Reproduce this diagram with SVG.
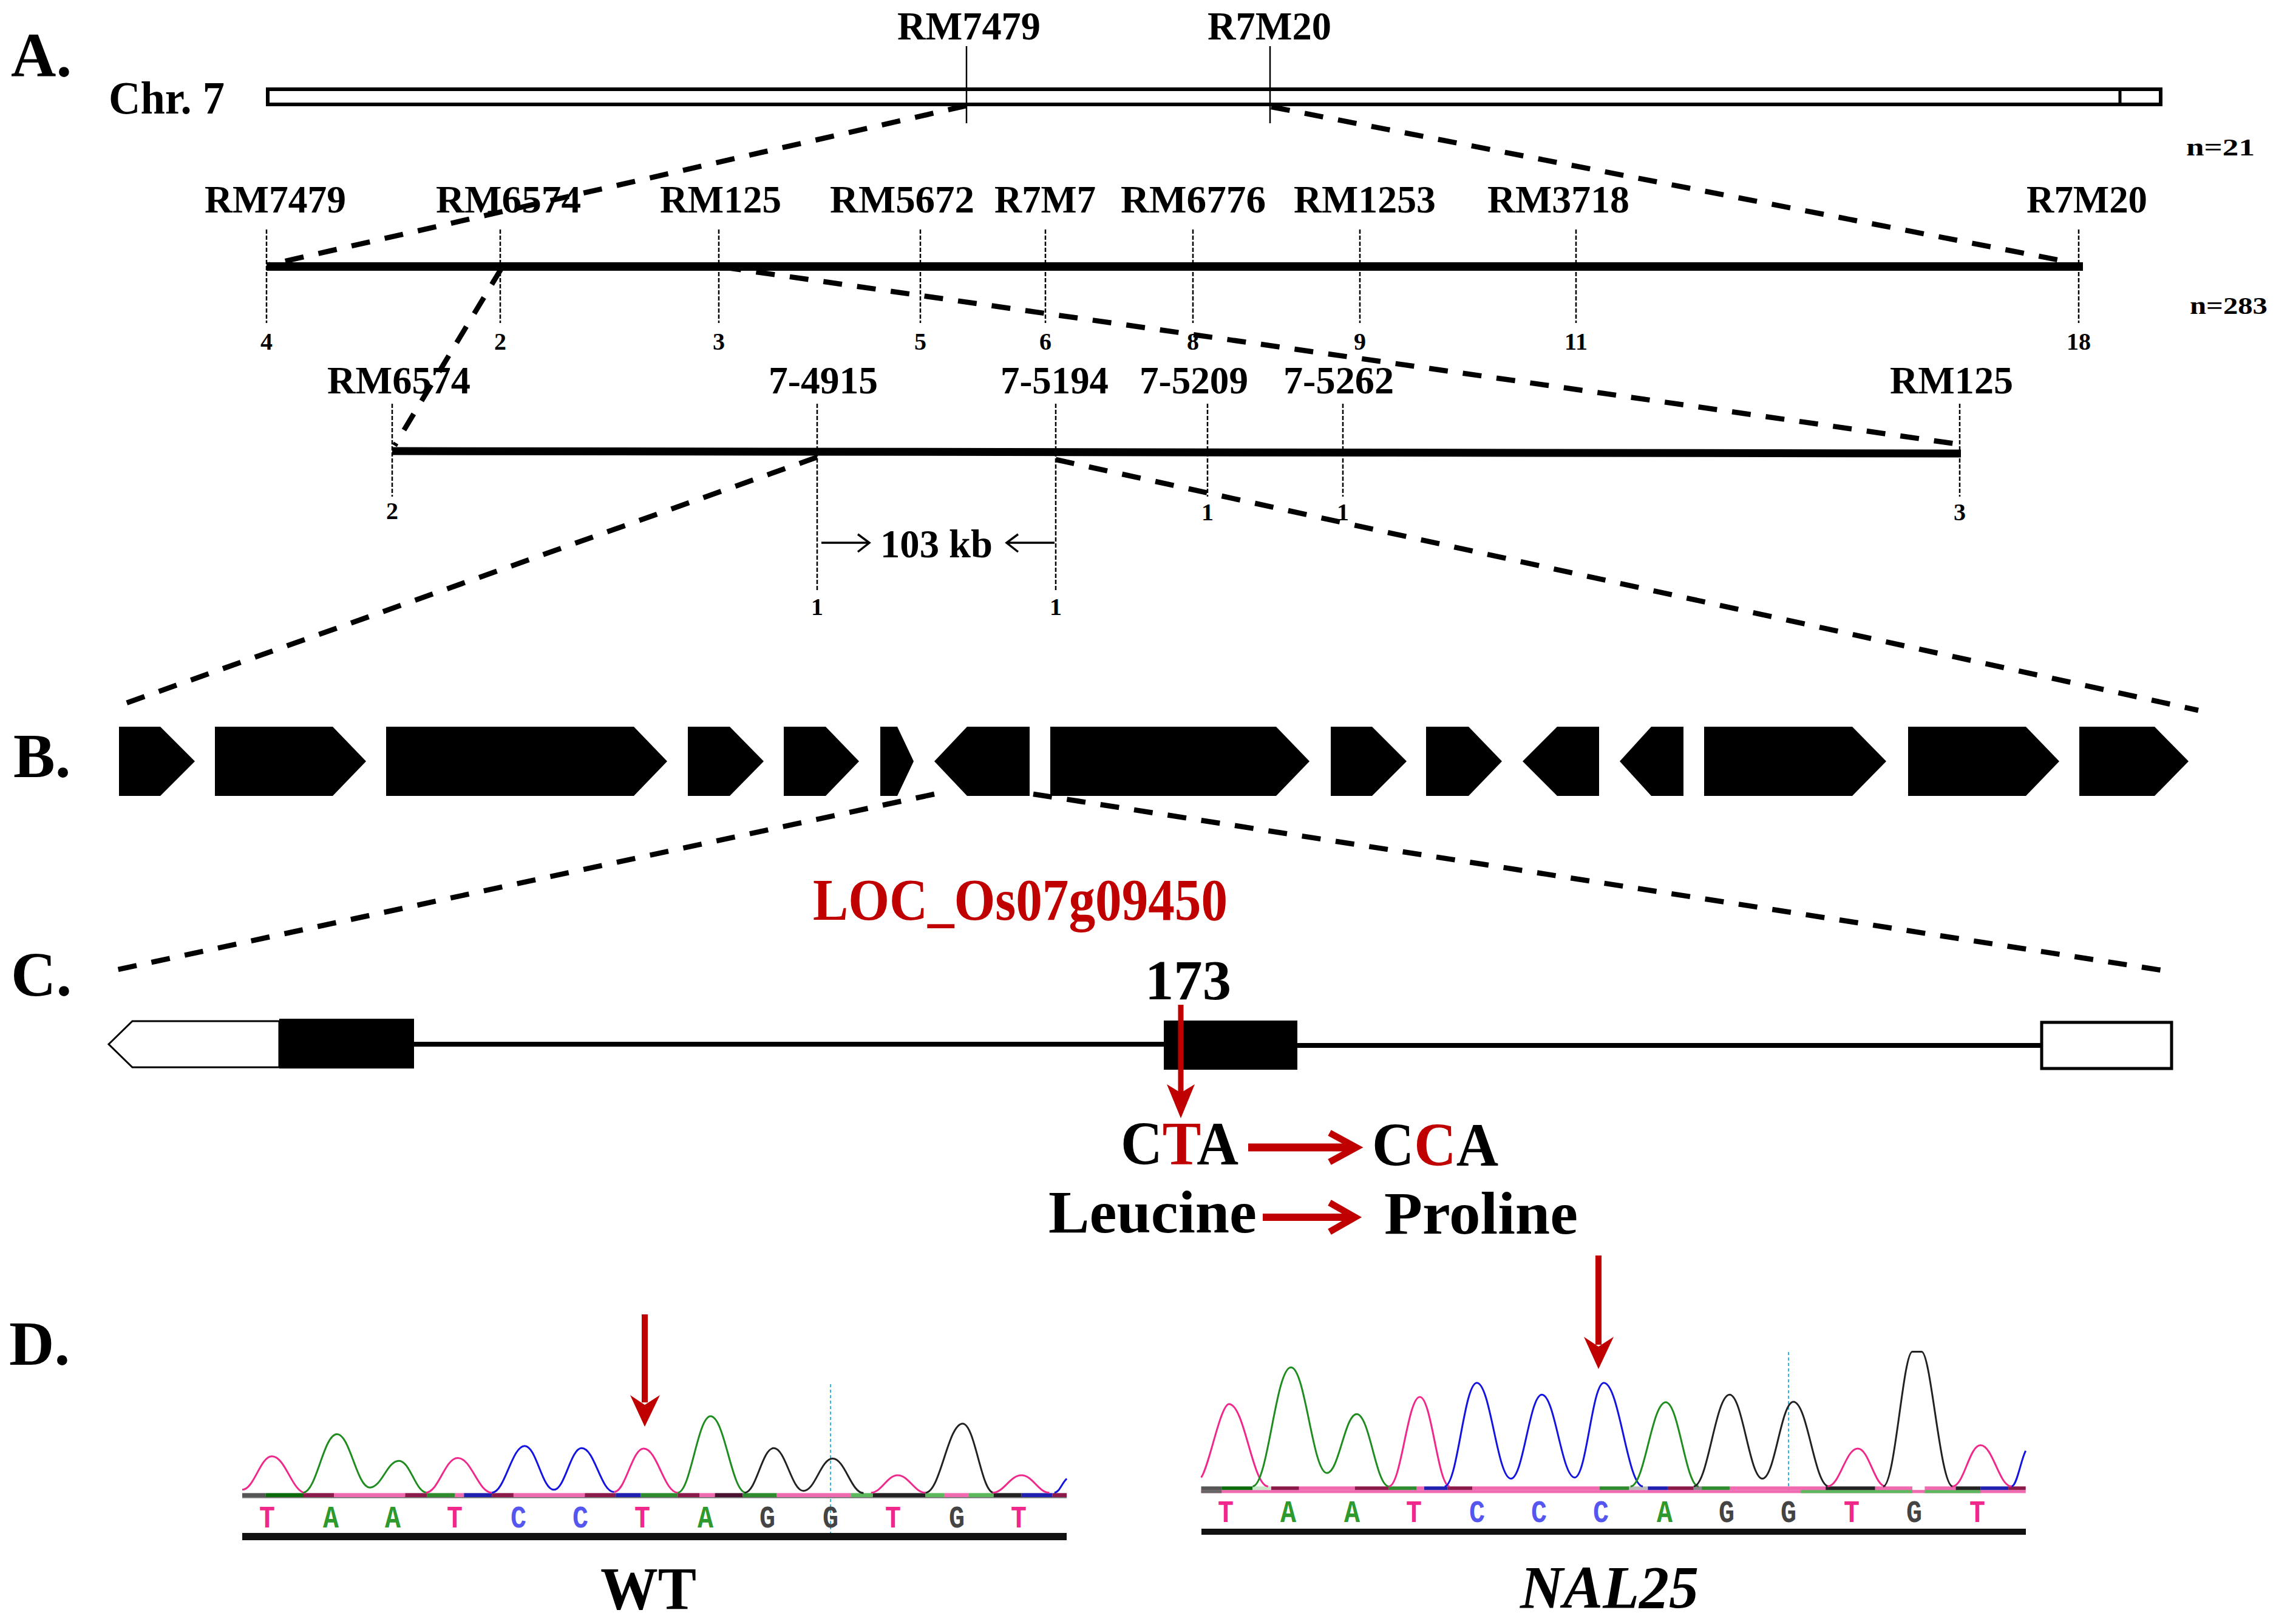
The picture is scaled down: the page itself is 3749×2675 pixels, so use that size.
<svg xmlns="http://www.w3.org/2000/svg" width="3749" height="2675" viewBox="0 0 3749 2675">
<style>
.t{font-family:"Liberation Serif","Times New Roman",serif;font-weight:bold;fill:#000}
.num{font-family:"Liberation Serif","Times New Roman",serif;font-weight:bold;font-size:40px;fill:#000;text-anchor:middle}
.pl{font-size:103px}
.mk{font-size:64px}
.tk{stroke:#000;stroke-width:2.5;stroke-dasharray:7 3;fill:none}
.conn{stroke:#000;stroke-width:8.5;stroke-dasharray:31 25;fill:none}
.gene{fill:#000}
.red{fill:#C00000}
.rs{stroke:#C00000;fill:none}
.tr{fill:none;stroke-width:3;vector-effect:non-scaling-stroke;stroke-linejoin:round}
.pk{stroke:#F0288C}.gr{stroke:#1E8C1E}.bl{stroke:#1414E0}.bk{stroke:#222}
.bc{font-family:"Liberation Mono","Courier New",monospace;font-weight:bold;font-size:52px;text-anchor:middle}
.cT{fill:#F0288C}.cA{fill:#2E9A2E}.cC{fill:#5555F0}.cG{fill:#444}
</style>

<!-- Panel labels -->
<g id="panel-labels">
<text class="t pl" x="18" y="126">A.</text>
<text class="t pl" x="22" y="1280">B.</text>
<text class="t pl" x="18" y="1640">C.</text>
<text class="t pl" x="15" y="2248">D.</text>
</g>

<!-- Chromosome 7 -->
<g id="chr7">
<text class="t" font-size="76" x="179" y="187" textLength="191" lengthAdjust="spacingAndGlyphs">Chr. 7</text>
<rect x="441" y="147" width="3118" height="25" fill="#fff" stroke="#000" stroke-width="6"/>
<line x1="3492" y1="147" x2="3492" y2="172" stroke="#000" stroke-width="5"/>
<line x1="1592" y1="76" x2="1592" y2="203" stroke="#000" stroke-width="2.5"/>
<line x1="2092" y1="76" x2="2092" y2="203" stroke="#000" stroke-width="2.5"/>
<text class="t" font-size="66" x="1478" y="65" textLength="236" lengthAdjust="spacingAndGlyphs">RM7479</text>
<text class="t" font-size="66" x="1989" y="65" textLength="204" lengthAdjust="spacingAndGlyphs">R7M20</text>
<text class="t" font-size="40" x="3601" y="256" textLength="113" lengthAdjust="spacingAndGlyphs">n=21</text>
</g>

<!-- Map n=283 -->
<g id="map283">
<line x1="439" y1="439" x2="3431" y2="439" stroke="#000" stroke-width="14"/>
<path class="tk" d="M439 378V532M824 378V532M1184 378V532M1516 378V532M1722 378V532M1965 378V532M2240 378V532M2596 378V532M3424 378V532"/>
<text class="t mk" x="337" y="350" textLength="233" lengthAdjust="spacingAndGlyphs">RM7479</text>
<text class="t mk" x="718" y="350" textLength="239" lengthAdjust="spacingAndGlyphs">RM6574</text>
<text class="t mk" x="1087" y="350" textLength="200" lengthAdjust="spacingAndGlyphs">RM125</text>
<text class="t mk" x="1367" y="350" textLength="238" lengthAdjust="spacingAndGlyphs">RM5672</text>
<text class="t mk" x="1638" y="350" textLength="167" lengthAdjust="spacingAndGlyphs">R7M7</text>
<text class="t mk" x="1846" y="350" textLength="239" lengthAdjust="spacingAndGlyphs">RM6776</text>
<text class="t mk" x="2131" y="350" textLength="234" lengthAdjust="spacingAndGlyphs">RM1253</text>
<text class="t mk" x="2450" y="350" textLength="234" lengthAdjust="spacingAndGlyphs">RM3718</text>
<text class="t mk" x="3338" y="350" textLength="199" lengthAdjust="spacingAndGlyphs">R7M20</text>
<text class="num" x="439" y="576">4</text>
<text class="num" x="824" y="576">2</text>
<text class="num" x="1184" y="576">3</text>
<text class="num" x="1516" y="576">5</text>
<text class="num" x="1722" y="576">6</text>
<text class="num" x="1965" y="576">8</text>
<text class="num" x="2240" y="576">9</text>
<text class="num" x="2596" y="576">11</text>
<text class="num" x="3424" y="576">18</text>
<text class="t" font-size="40" x="3607" y="517" textLength="128" lengthAdjust="spacingAndGlyphs">n=283</text>
</g>

<!-- Fine map -->
<g id="finemap">
<line x1="646" y1="743" x2="3230" y2="747" stroke="#000" stroke-width="13"/>
<path class="tk" d="M646 665V818M1989 665V818M2212 665V818M3228 665V818M1346 665V972M1739 665V972"/>
<text class="t mk" x="539" y="648" textLength="236" lengthAdjust="spacingAndGlyphs">RM6574</text>
<text class="t mk" x="1266" y="648" textLength="180" lengthAdjust="spacingAndGlyphs">7-4915</text>
<text class="t mk" x="1648" y="648" textLength="178" lengthAdjust="spacingAndGlyphs">7-5194</text>
<text class="t mk" x="1877" y="648" textLength="179" lengthAdjust="spacingAndGlyphs">7-5209</text>
<text class="t mk" x="2114" y="648" textLength="182" lengthAdjust="spacingAndGlyphs">7-5262</text>
<text class="t mk" x="3113" y="648" textLength="203" lengthAdjust="spacingAndGlyphs">RM125</text>
<text class="num" x="646" y="855">2</text>
<text class="num" x="1989" y="857">1</text>
<text class="num" x="2212" y="857">1</text>
<text class="num" x="3228" y="857">3</text>
<text class="num" x="1346" y="1013">1</text>
<text class="num" x="1739" y="1013">1</text>
<path d="M1353 894H1430M1413 880L1432 894L1413 909M1737 894H1660M1677 880L1658 894L1677 909" stroke="#000" stroke-width="3.5" fill="none"/>
<text class="t" font-size="66" x="1450" y="918" textLength="185" lengthAdjust="spacingAndGlyphs">103 kb</text>
</g>

<!-- Panel B genes -->
<g id="genes">
<polygon class="gene" points="196,1197 264,1197 321,1254 264,1311 196,1311"/>
<polygon class="gene" points="354,1197 548,1197 603,1254 548,1311 354,1311"/>
<polygon class="gene" points="636,1197 1044,1197 1099,1254 1044,1311 636,1311"/>
<polygon class="gene" points="1133,1197 1202,1197 1258,1254 1202,1311 1133,1311"/>
<polygon class="gene" points="1291,1197 1360,1197 1415,1254 1360,1311 1291,1311"/>
<polygon class="gene" points="1450,1197 1478,1197 1505,1254 1478,1311 1450,1311"/>
<polygon class="gene" points="1539,1254 1593,1197 1696,1197 1696,1311 1593,1311"/>
<polygon class="gene" points="1730,1197 2102,1197 2157,1254 2102,1311 1730,1311"/>
<polygon class="gene" points="2192,1197 2260,1197 2317,1254 2260,1311 2192,1311"/>
<polygon class="gene" points="2349,1197 2419,1197 2474,1254 2419,1311 2349,1311"/>
<polygon class="gene" points="2508,1254 2565,1197 2634,1197 2634,1311 2565,1311"/>
<polygon class="gene" points="2668,1254 2720,1197 2773,1197 2773,1311 2720,1311"/>
<polygon class="gene" points="2807,1197 3051,1197 3107,1254 3051,1311 2807,1311"/>
<polygon class="gene" points="3143,1197 3337,1197 3392,1254 3337,1311 3143,1311"/>
<polygon class="gene" points="3425,1197 3549,1197 3605,1254 3549,1311 3425,1311"/>
<text class="t red" font-size="98" x="1339" y="1515" textLength="683" lengthAdjust="spacingAndGlyphs">LOC_Os07g09450</text>
</g>

<!-- Panel C gene structure -->
<g id="gene-structure">
<line x1="682" y1="1720" x2="1917" y2="1720" stroke="#000" stroke-width="8"/>
<line x1="2137" y1="1722" x2="3361" y2="1722" stroke="#000" stroke-width="8"/>
<polygon points="179,1720 218,1682 460,1682 460,1758 218,1758" fill="#fff" stroke="#000" stroke-width="3"/>
<rect x="460" y="1678" width="222" height="82" fill="#000"/>
<rect x="1917" y="1681" width="220" height="81" fill="#000"/>
<rect x="3363" y="1684" width="214" height="76" fill="#fff" stroke="#000" stroke-width="5"/>
<text class="t" font-size="94" x="1886" y="1646" textLength="142" lengthAdjust="spacingAndGlyphs">173</text>
<line class="rs" x1="1945" y1="1655" x2="1945" y2="1805" stroke-width="9"/>
<polygon class="red" points="1945,1842 1922,1786 1945,1800 1968,1786"/>
<text class="t" font-size="102" x="1846" y="1918" textLength="194" lengthAdjust="spacingAndGlyphs">C<tspan class="red">T</tspan>A</text>
<text class="t" font-size="102" x="2260" y="1920" textLength="208" lengthAdjust="spacingAndGlyphs">C<tspan class="red">C</tspan>A</text>
<path class="rs" d="M2056 1890H2228" stroke-width="13"/>
<path class="rs" d="M2190 1866L2234 1890L2190 1914" stroke-width="11" stroke-linejoin="miter"/>
<text class="t" font-size="100" x="1727" y="2030" textLength="343" lengthAdjust="spacingAndGlyphs">Leucine</text>
<text class="t" font-size="100" x="2280" y="2032" textLength="319" lengthAdjust="spacingAndGlyphs">Proline</text>
<path class="rs" d="M2080 2005H2226" stroke-width="12"/>
<path class="rs" d="M2190 1981L2232 2005L2190 2029" stroke-width="11" stroke-linejoin="miter"/>
</g>

<!-- Panel D chromatograms -->
<g id="chromatogram-wt">
<line class="rs" x1="1062" y1="2165" x2="1062" y2="2310" stroke-width="10"/>
<polygon class="red" points="1062,2350 1038,2298 1062,2314 1087,2298"/>
<line x1="1368" y1="2280" x2="1368" y2="2538" stroke="#33B5E5" stroke-width="2" stroke-dasharray="5 4"/>
<g transform="translate(300,2100) scale(1.0204,0.3667)">
<rect x="97" y="995" width="1331" height="8" fill="#777"/>
<rect x="97" y="980" width="38" height="18" fill="#555"/>
<rect x="135" y="980" width="60" height="18" fill="#0B6B0B"/>
<rect x="195" y="980" width="50" height="18" fill="#8B1A4A"/>
<rect x="245" y="980" width="115" height="18" fill="#F06AB0"/>
<rect x="360" y="980" width="35" height="18" fill="#8B1A4A"/>
<rect x="395" y="980" width="45" height="18" fill="#2E8B2E"/>
<rect x="440" y="980" width="15" height="18" fill="#F06AB0"/>
<rect x="455" y="980" width="45" height="18" fill="#2020B0"/>
<rect x="500" y="980" width="35" height="18" fill="#8B1A4A"/>
<rect x="535" y="980" width="115" height="18" fill="#F06AB0"/>
<rect x="650" y="980" width="50" height="18" fill="#8B1A4A"/>
<rect x="700" y="980" width="40" height="18" fill="#2020B0"/>
<rect x="740" y="980" width="60" height="18" fill="#2E8B2E"/>
<rect x="800" y="980" width="35" height="18" fill="#8B1A4A"/>
<rect x="835" y="980" width="25" height="18" fill="#F06AB0"/>
<rect x="860" y="980" width="45" height="18" fill="#4A1030"/>
<rect x="905" y="980" width="55" height="18" fill="#2E8B2E"/>
<rect x="960" y="980" width="120" height="18" fill="#F06AB0"/>
<rect x="1080" y="980" width="35" height="18" fill="#5CB85C"/>
<rect x="1115" y="980" width="85" height="18" fill="#222"/>
<rect x="1200" y="980" width="30" height="18" fill="#5CB85C"/>
<rect x="1230" y="980" width="40" height="18" fill="#F06AB0"/>
<rect x="1270" y="980" width="40" height="18" fill="#5CB85C"/>
<rect x="1310" y="980" width="45" height="18" fill="#222"/>
<rect x="1355" y="980" width="50" height="18" fill="#2020B0"/>
<rect x="1405" y="980" width="23" height="18" fill="#8B1A4A"/>
<path class="tr pk" d="M97 965C116 965 126 815 145 815C167 815 178 980 200 980"/>
<path class="tr gr" d="M195 978C217 978 228 715 250 715C271 715 282 955 303 955C322 955 331 835 350 835C368 835 377 978 395 978"/>
<path class="tr pk" d="M393 978C414 978 424 822 445 822C467 822 478 978 500 978"/>
<path class="tr bl" d="M500 978C521 978 532 768 553 768C572 768 581 965 600 965C618 965 627 778 645 778C666 778 676 975 697 975"/>
<path class="tr pk" d="M697 975C716 975 726 780 745 780C767 780 778 978 800 978"/>
<path class="tr gr" d="M800 978C821 978 832 635 853 635C876 635 887 978 910 978"/>
<path class="tr bk" d="M908 978C927 978 936 778 955 778C974 778 984 970 1003 970C1022 970 1031 825 1050 825C1070 825 1080 980 1100 980"/>
<path class="tr pk" d="M1112 978C1129 978 1138 900 1155 900C1173 900 1182 978 1200 978"/>
<path class="tr bk" d="M1200 978C1224 978 1236 668 1260 668C1280 668 1290 978 1310 978"/>
<path class="tr pk" d="M1308 978C1327 978 1336 900 1355 900C1373 900 1382 978 1400 978"/>
<path class="tr bl" d="M1408 978C1416 978 1420 935 1428 915"/>
</g>
<rect x="399" y="2525" width="1358" height="12" fill="#111"/>
<text class="bc cT" x="440" y="2516" textLength="26" lengthAdjust="spacingAndGlyphs">T</text>
<text class="bc cA" x="545" y="2516" textLength="26" lengthAdjust="spacingAndGlyphs">A</text>
<text class="bc cA" x="647" y="2516" textLength="26" lengthAdjust="spacingAndGlyphs">A</text>
<text class="bc cT" x="749" y="2516" textLength="26" lengthAdjust="spacingAndGlyphs">T</text>
<text class="bc cC" x="854" y="2516" textLength="26" lengthAdjust="spacingAndGlyphs">C</text>
<text class="bc cC" x="956" y="2516" textLength="26" lengthAdjust="spacingAndGlyphs">C</text>
<text class="bc cT" x="1058" y="2516" textLength="26" lengthAdjust="spacingAndGlyphs">T</text>
<text class="bc cA" x="1162" y="2516" textLength="26" lengthAdjust="spacingAndGlyphs">A</text>
<text class="bc cG" x="1264" y="2516" textLength="26" lengthAdjust="spacingAndGlyphs">G</text>
<text class="bc cG" x="1368" y="2516" textLength="26" lengthAdjust="spacingAndGlyphs">G</text>
<text class="bc cT" x="1471" y="2516" textLength="26" lengthAdjust="spacingAndGlyphs">T</text>
<text class="bc cG" x="1576" y="2516" textLength="26" lengthAdjust="spacingAndGlyphs">G</text>
<text class="bc cT" x="1678" y="2516" textLength="26" lengthAdjust="spacingAndGlyphs">T</text>
<text class="t" font-size="100" x="989" y="2650" textLength="158" lengthAdjust="spacingAndGlyphs">WT</text>
</g>

<g id="chromatogram-nal25">
<line class="rs" x1="2633" y1="2068" x2="2633" y2="2215" stroke-width="10"/>
<polygon class="red" points="2633,2255 2609,2202 2633,2218 2658,2202"/>
<line x1="2946" y1="2227" x2="2946" y2="2456" stroke="#33B5E5" stroke-width="2" stroke-dasharray="5 4"/>
<g transform="translate(1900,2100) scale(1.0204,0.3667)">
<rect x="77" y="966" width="1331" height="14" fill="#F06AB0"/>
<rect x="77" y="966" width="33" height="14" fill="#666"/>
<rect x="1045" y="966" width="180" height="14" fill="#5CB85C"/>
<rect x="1245" y="966" width="90" height="14" fill="#5CB85C"/>
<rect x="77" y="950" width="33" height="16" fill="#555"/>
<rect x="110" y="950" width="50" height="16" fill="#0B6B0B"/>
<rect x="160" y="950" width="30" height="16" fill="#C8E6C8"/>
<rect x="190" y="950" width="45" height="16" fill="#8B1A4A"/>
<rect x="235" y="950" width="90" height="16" fill="#F06AB0"/>
<rect x="325" y="950" width="55" height="16" fill="#8B1A4A"/>
<rect x="380" y="950" width="45" height="16" fill="#2E8B2E"/>
<rect x="425" y="950" width="12" height="16" fill="#F06AB0"/>
<rect x="437" y="950" width="38" height="16" fill="#2020B0"/>
<rect x="475" y="950" width="40" height="16" fill="#8B1A4A"/>
<rect x="515" y="950" width="205" height="16" fill="#F06AB0"/>
<rect x="720" y="950" width="48" height="16" fill="#2E8B2E"/>
<rect x="768" y="950" width="30" height="16" fill="#BBB"/>
<rect x="798" y="950" width="32" height="16" fill="#2020B0"/>
<rect x="830" y="950" width="42" height="16" fill="#8B1A4A"/>
<rect x="872" y="950" width="13" height="16" fill="#888"/>
<rect x="885" y="950" width="45" height="16" fill="#2E8B2E"/>
<rect x="930" y="950" width="155" height="16" fill="#F06AB0"/>
<rect x="1085" y="950" width="80" height="16" fill="#222"/>
<rect x="1165" y="950" width="60" height="16" fill="#F06AB0"/>
<rect x="1245" y="950" width="50" height="16" fill="#F06AB0"/>
<rect x="1295" y="950" width="40" height="16" fill="#222"/>
<rect x="1335" y="950" width="45" height="16" fill="#2020B0"/>
<rect x="1380" y="950" width="28" height="16" fill="#8B1A4A"/>
<path class="tr pk" d="M77 910C90 860 108 580 122 580C147 580 160 950 185 950"/>
<path class="tr gr" d="M160 950C185 950 197 415 222 415C245 415 257 890 280 890C299 890 309 625 328 625C349 625 359 950 380 950"/>
<path class="tr pk" d="M380 950C400 950 410 548 430 548C449 548 459 950 478 950"/>
<path class="tr bl" d="M470 950C491 950 501 485 522 485C544 485 555 915 577 915C597 915 607 538 627 538C648 538 659 910 680 910C699 910 708 485 727 485C752 485 765 950 790 950"/>
<path class="tr gr" d="M770 950C793 950 804 572 827 572C848 572 859 950 880 950"/>
<path class="tr bk" d="M872 950C895 950 907 538 930 538C951 538 962 915 983 915C1003 915 1013 570 1033 570C1056 570 1067 950 1090 950"/>
<path class="tr pk" d="M1088 950C1108 950 1117 780 1137 780C1155 780 1164 950 1182 950"/>
<path class="tr bk" d="M1178 950C1197 950 1210 345 1225 345L1240 345C1255 345 1270 950 1290 950"/>
<path class="tr pk" d="M1290 950C1308 950 1317 765 1335 765C1355 765 1365 950 1385 950"/>
<path class="tr bl" d="M1385 950C1394 950 1400 830 1408 790"/>
</g>
<rect x="1979" y="2518" width="1358" height="10" fill="#111"/>
<text class="bc cT" x="2019" y="2507" textLength="26" lengthAdjust="spacingAndGlyphs">T</text>
<text class="bc cA" x="2122" y="2507" textLength="26" lengthAdjust="spacingAndGlyphs">A</text>
<text class="bc cA" x="2227" y="2507" textLength="26" lengthAdjust="spacingAndGlyphs">A</text>
<text class="bc cT" x="2329" y="2507" textLength="26" lengthAdjust="spacingAndGlyphs">T</text>
<text class="bc cC" x="2433" y="2507" textLength="26" lengthAdjust="spacingAndGlyphs">C</text>
<text class="bc cC" x="2535" y="2507" textLength="26" lengthAdjust="spacingAndGlyphs">C</text>
<text class="bc cC" x="2637" y="2507" textLength="26" lengthAdjust="spacingAndGlyphs">C</text>
<text class="bc cA" x="2742" y="2507" textLength="26" lengthAdjust="spacingAndGlyphs">A</text>
<text class="bc cG" x="2844" y="2507" textLength="26" lengthAdjust="spacingAndGlyphs">G</text>
<text class="bc cG" x="2946" y="2507" textLength="26" lengthAdjust="spacingAndGlyphs">G</text>
<text class="bc cT" x="3050" y="2507" textLength="26" lengthAdjust="spacingAndGlyphs">T</text>
<text class="bc cG" x="3153" y="2507" textLength="26" lengthAdjust="spacingAndGlyphs">G</text>
<text class="bc cT" x="3257" y="2507" textLength="26" lengthAdjust="spacingAndGlyphs">T</text>
<text class="t" font-size="100" font-style="italic" x="2504" y="2648" textLength="294" lengthAdjust="spacingAndGlyphs">NAL25</text>
</g>

<!-- Connectors -->
<g id="connectors">
<line class="conn" x1="1592" y1="174" x2="444" y2="436"/>
<line class="conn" x1="2094" y1="176" x2="3410" y2="432"/>
<line class="conn" x1="826" y1="442" x2="650" y2="734"/>
<line class="conn" x1="1190" y1="440" x2="3228" y2="732"/>
<line class="conn" x1="1346" y1="753" x2="194" y2="1163"/>
<line class="conn" x1="1739" y1="757" x2="3621" y2="1170"/>
<line class="conn" x1="1539" y1="1308" x2="180" y2="1600"/>
<line class="conn" x1="1702" y1="1308" x2="3579" y2="1601"/>
</g>
</svg>
